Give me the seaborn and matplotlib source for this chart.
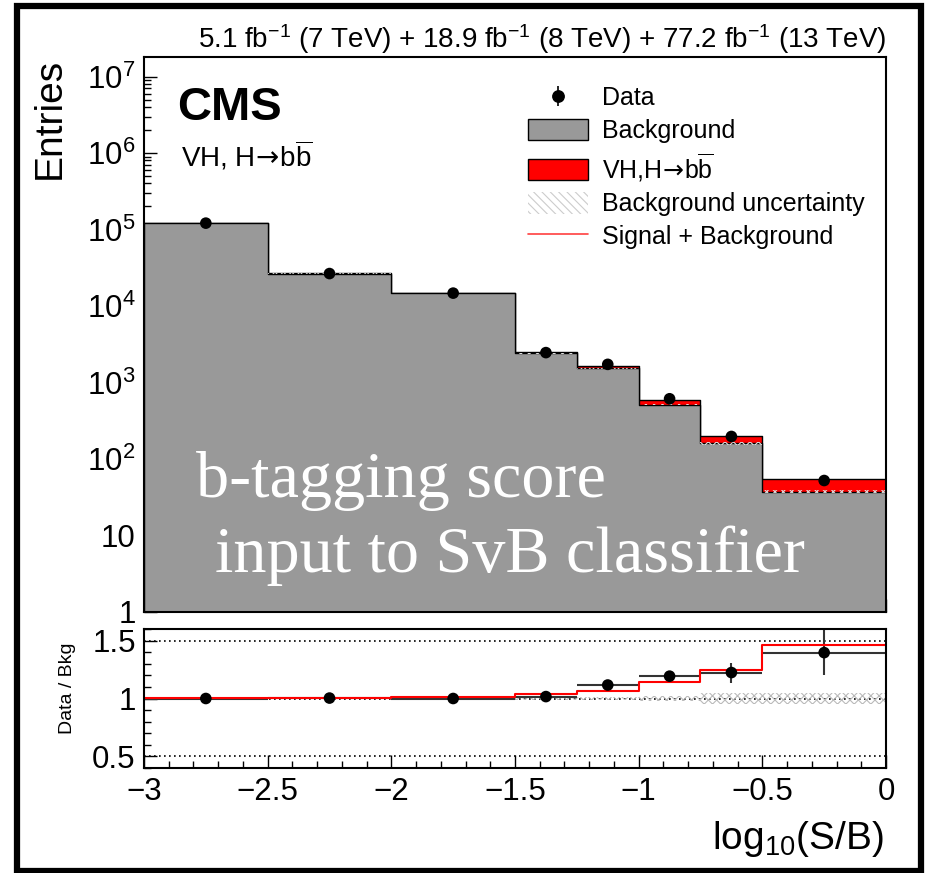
import numpy as np
import pandas as pd
import matplotlib
matplotlib.use("Agg")
import matplotlib.pyplot as plt
import seaborn as sns
from matplotlib.patches import Patch, Rectangle
from matplotlib.lines import Line2D
from matplotlib.legend_handler import HandlerTuple
from matplotlib.ticker import (FixedLocator, FixedFormatter, LogLocator,
                               MultipleLocator, NullFormatter)

# ---------------- data ----------------
bin_edges = [-3.0, -2.5, -2.0, -1.5, -1.25, -1.0, -0.75, -0.5, 0.0]
background = [1.21e5, 2.64e4, 1.47e4, 2.41e3, 1.54e3, 511, 160, 37.2]
signal = [180, 160, 250, 89, 106, 71, 40, 17.3]
data_counts = [1.21e5, 2.65e4, 1.47e4, 2.45e3, 1.72e3, 610, 196, 52]
ratio_err = [0.004, 0.008, 0.01, 0.025, 0.03, 0.04, 0.087, 0.195]
bkg_rel_unc = [0.006, 0.006, 0.008, 0.012, 0.015, 0.02, 0.045, 0.05]

x_tick_values = [-3, -2.5, -2, -1.5, -1, -0.5, 0]
x_tick_labels = ["\u22123", "\u22122.5", "\u22122", "\u22121.5", "\u22121", "\u22120.5", "0"]
y_tick_values = [1, 10, 1e2, 1e3, 1e4, 1e5, 1e6, 1e7]
y_tick_labels = ["1", "10", r"$\mathregular{10^{2}}$", r"$\mathregular{10^{3}}$",
                 r"$\mathregular{10^{4}}$", r"$\mathregular{10^{5}}$",
                 r"$\mathregular{10^{6}}$", r"$\mathregular{10^{7}}$"]
ratio_tick_values = [0.5, 1, 1.5]
ratio_tick_labels = ["0.5", "1", "1.5"]

legend_labels = ["Data", "Background",
                 r"VH,H$\mathsf{\!\rightarrow\!}$b$\overline{\mathrm{b}}$",
                 "Background uncertainty", "Signal + Background"]

# ---------------- style ----------------
sns.set_theme(style="white")
plt.rcParams["font.family"] = ["Liberation Sans", "DejaVu Sans"]
plt.rcParams["mathtext.fontset"] = "custom"
plt.rcParams["mathtext.rm"] = "Liberation Sans"
plt.rcParams["mathtext.it"] = "Liberation Sans:italic"
plt.rcParams["mathtext.bf"] = "Liberation Sans:bold"
plt.rcParams["mathtext.sf"] = "DejaVu Sans"
plt.rcParams["axes.edgecolor"] = "black"
plt.rcParams["text.color"] = "black"
plt.rcParams["axes.labelcolor"] = "black"
plt.rcParams["xtick.color"] = "black"
plt.rcParams["ytick.color"] = "black"
plt.rcParams["hatch.linewidth"] = 0.8

W, H = 928, 873
fig = plt.figure(figsize=(W / 100, H / 100), dpi=100)
fig.patch.set_facecolor("white")


def fx(px):
    return px / W


def fy(py):
    return 1 - py / H


ax = fig.add_axes([fx(144), fy(611.7), fx(886) - fx(144), fy(56.7) - fy(611.7)])
ax2 = fig.add_axes([fx(144), fy(767.7), fx(886) - fx(144), fy(629.3) - fy(767.7)])

edges = np.array(bin_edges)
centers = 0.5 * (edges[:-1] + edges[1:])
widths = np.diff(edges)
bkg = np.array(background)
sig = np.array(signal)
sb = bkg + sig
dat = np.array(data_counts)
unc = np.array(bkg_rel_unc)

df = pd.DataFrame({"x": centers, "bkg": bkg, "sb": sb, "data": dat})

# ---------------- main panel ----------------
sns.histplot(data=df, x="x", weights="sb", bins=list(bin_edges), element="step", fill=True,
             color="#ff0000", alpha=1, edgecolor="black", linewidth=1.0, ax=ax)
sns.histplot(data=df, x="x", weights="bkg", bins=list(bin_edges), element="step", fill=True,
             color="#999999", alpha=1, edgecolor="black", linewidth=1.0, ax=ax)
ax.fill_between(edges, np.append(bkg * (1 - unc), bkg[-1] * (1 - unc[-1])),
                np.append(bkg * (1 + unc), bkg[-1] * (1 + unc[-1])), step="post",
                facecolor="none", edgecolor="#dddddd", hatch="xxxx", linewidth=0, zorder=3)
sns.scatterplot(data=df, x="x", y="data", color="black", s=70, edgecolor="none",
                zorder=5, legend=False, ax=ax)

ax.set_yscale("log")
ax.set_xlim(-3, 0)
ax.set_ylim(1, 10 ** 7.26)
ax.set_xlabel("")
ax.set_ylabel("")
ax.yaxis.set_major_locator(FixedLocator(y_tick_values))
ax.yaxis.set_major_formatter(FixedFormatter(y_tick_labels))
ax.yaxis.set_minor_locator(LogLocator(base=10, subs=np.arange(2, 10)))
ax.yaxis.set_minor_formatter(NullFormatter())
ax.xaxis.set_major_locator(FixedLocator(x_tick_values))
ax.xaxis.set_minor_locator(MultipleLocator(0.1))
ax.tick_params(axis="both", which="major", direction="in", length=9.6, width=1.0,
               color="black", labelsize=22.5, pad=6, top=False, right=False,
               bottom=True, left=True)
ax.tick_params(axis="both", which="minor", direction="in", length=4.8, width=1.0,
               color="black", top=False, right=False, bottom=True, left=True)
ax.tick_params(axis="x", labelbottom=False)
for s in ax.spines.values():
    s.set_linewidth(1.5)
    s.set_color("black")
    s.set_zorder(10)

# legend
h_data = (Line2D([], [], marker="o", color="black", linestyle="none", markersize=8.2),
          Line2D([], [], marker="|", color="black", linestyle="none", markersize=14,
                 markeredgewidth=1.2))
h_bkg = Patch(facecolor="#999999", edgecolor="black", linewidth=1.0)
h_sig = Patch(facecolor="#ff0000", edgecolor="black", linewidth=1.0)
h_unc = Patch(facecolor="white", edgecolor="#cccccc", hatch="\\\\\\\\", linewidth=0)
h_sb = Line2D([], [], color="#ff4040", linewidth=1.2)
leg = ax.legend([h_data, h_bkg, h_sig, h_unc, h_sb], legend_labels,
                handler_map={tuple: HandlerTuple(ndivide=1)},
                loc="upper left", bbox_to_anchor=((528 - 144) / 742, 1 - (86 - 56.7) / 555),
                frameon=False, borderpad=0, borderaxespad=0, fontsize=18,
                handlelength=2.4, handleheight=0.96, handletextpad=0.56,
                labelspacing=0.33)

# texts
fig.text(fx(177), fy(120), "CMS", fontsize=34, fontweight="bold", ha="left", va="baseline")
fig.text(fx(181), fy(166), r"VH, H$\mathsf{\!\rightarrow\!}$b$\overline{\mathrm{b}}$",
         fontsize=20, ha="left", va="baseline")
fig.text(fx(886), fy(48),
         r"5.1 fb$^{-1}$ (7 TeV) + 18.9 fb$^{-1}$ (8 TeV) + 77.2 fb$^{-1}$ (13 TeV)",
         fontsize=20, ha="right", va="baseline")
fig.text(fx(50), fy(58), "Entries", fontsize=28, rotation=90, ha="center", va="top")
fig.text(fx(196), fy(497), "b-tagging score", fontsize=47.6, color="white",
         family=["Liberation Serif", "DejaVu Serif"], ha="left", va="baseline", zorder=20)
fig.text(fx(215), fy(572), "input to SvB classifier", fontsize=47.6, color="white",
         family=["Liberation Serif", "DejaVu Serif"], ha="left", va="baseline", zorder=20)

# ---------------- ratio panel ----------------
ratio = dat / bkg
ratio_sb = sb / bkg
for yv in ratio_tick_values:
    ax2.axhline(yv, color="black", linestyle=(0, (1, 2)), linewidth=1.2, zorder=1)
ax2.fill_between(edges, np.append(1 - unc, 1 - unc[-1]), np.append(1 + unc, 1 + unc[-1]),
                 step="post", facecolor="none", edgecolor="#bbbbbb", hatch="xxxx",
                 linewidth=0, zorder=2)
ax2.errorbar(centers, ratio, xerr=widths / 2, yerr=ratio_err, fmt="none",
             ecolor="#333333", elinewidth=1.5, capsize=0, zorder=3)
sns.lineplot(x=edges, y=np.append(ratio_sb, ratio_sb[-1]), drawstyle="steps-post",
             color="red", linewidth=1.5, estimator=None, sort=False, ax=ax2, zorder=4)
sns.scatterplot(x=centers, y=ratio, color="black", s=70, edgecolor="none",
                zorder=5, legend=False, ax=ax2)

ax2.set_xlim(-3, 0)
ax2.set_ylim(0.4, 1.6)
ax2.set_xlabel("")
ax2.set_ylabel("")
ax2.xaxis.set_major_locator(FixedLocator(x_tick_values))
ax2.xaxis.set_major_formatter(FixedFormatter(x_tick_labels))
ax2.xaxis.set_minor_locator(MultipleLocator(0.1))
ax2.yaxis.set_major_locator(FixedLocator(ratio_tick_values))
ax2.yaxis.set_major_formatter(FixedFormatter(ratio_tick_labels))
ax2.yaxis.set_minor_locator(MultipleLocator(0.1))
ax2.tick_params(axis="both", which="major", direction="in", length=9.6, width=1.0,
                color="black", labelsize=22.5, top=False, right=False,
                bottom=True, left=True)
ax2.tick_params(axis="x", which="major", pad=7)
ax2.tick_params(axis="y", which="major", pad=6)
ax2.tick_params(axis="both", which="minor", direction="in", length=4.8, width=1.0,
                color="black", top=False, right=False, bottom=True, left=True)
for s in ax2.spines.values():
    s.set_linewidth(1.5)
    s.set_color("black")
    s.set_zorder(10)

fig.text(fx(68), fy(688), "Data / Bkg", fontsize=14, rotation=90, ha="center", va="center")
fig.text(fx(884), fy(849), r"log$_{10}$(S/B)", fontsize=28, ha="right", va="baseline")

# outer frame
fig.patches.append(Rectangle((fx(17.5), fy(870.5)), fx(920.5) - fx(17.5), fy(6) - fy(870.5),
                             transform=fig.transFigure, fill=False, edgecolor="black",
                             linewidth=4.5, zorder=30))

fig.savefig("out.png", dpi=100)
